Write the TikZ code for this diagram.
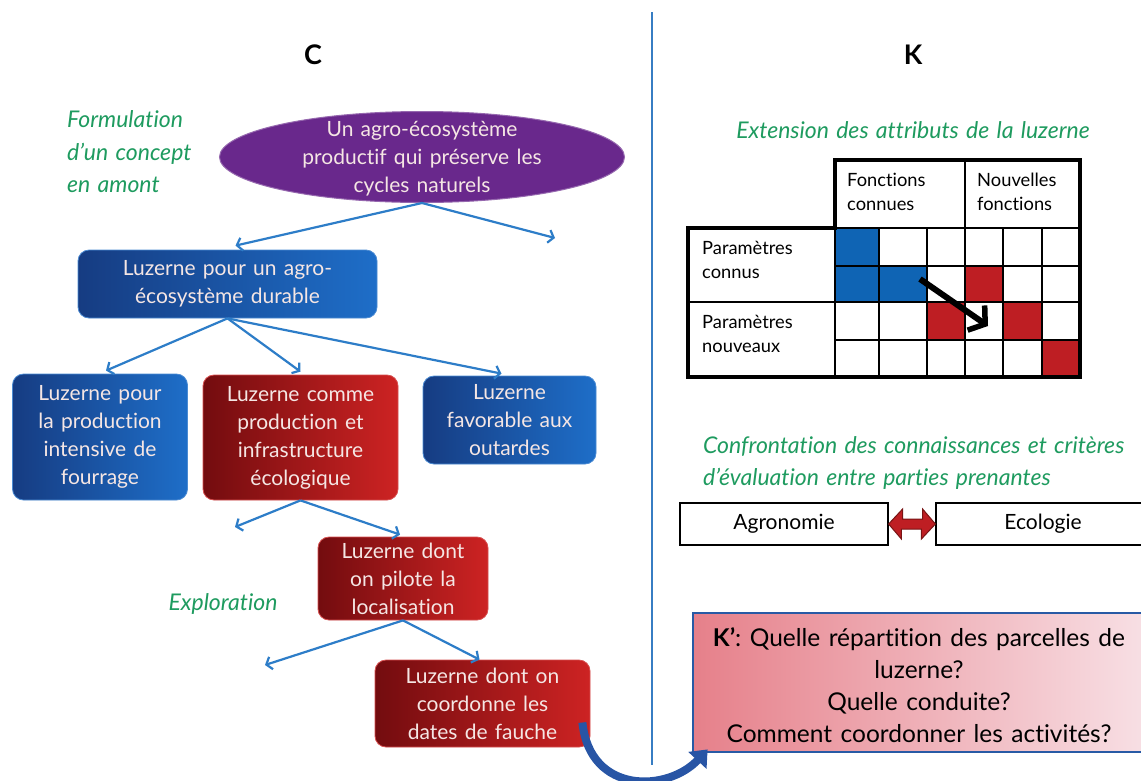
\documentclass[tikz,border=0pt]{standalone}
\usepackage{fontspec}
\setmainfont{Lato}[WordSpace=1.35,Ligatures=NoCommon]
\usetikzlibrary{arrows.meta,shapes.geometric,calc}
\definecolor{flowblue}{RGB}{45,125,200}
\definecolor{linkblue}{RGB}{55,125,195}
\definecolor{purp}{RGB}{105,40,140}
\definecolor{bdark}{RGB}{22,60,130}
\definecolor{blight}{RGB}{30,110,200}
\definecolor{rdark}{RGB}{115,12,15}
\definecolor{rlight}{RGB}{205,35,35}
\definecolor{lgreen}{RGB}{30,155,95}
\definecolor{cellblue}{RGB}{15,100,180}
\definecolor{cellred}{RGB}{190,30,35}
\definecolor{arrdark}{RGB}{120,20,20}
\definecolor{kpink}{RGB}{230,128,138}
\definecolor{kpale}{RGB}{248,225,230}
\definecolor{kborder}{RGB}{40,90,165}
\definecolor{curveblue}{RGB}{40,85,165}
\definecolor{boxtxt}{RGB}{245,230,228}
\begin{document}
\begin{tikzpicture}[x=1pt,y=-1pt,
  boxfont/.style={font=\fontsize{21}{28}\selectfont},
  bluebox/.style={rounded corners=11pt, left color=bdark, right color=blight, draw=blight!80!white, line width=0.8pt, text=boxtxt, align=center, inner sep=0pt, boxfont},
  redbox/.style={rounded corners=11pt, left color=rdark, right color=rlight, draw=rlight!80!white, line width=0.8pt, text=boxtxt, align=center, inner sep=0pt, boxfont},
  flow/.style={draw=flowblue, line width=2.2pt, -{Straight Barb[length=5pt,width=13pt]}},
  greenlabel/.style={text=lgreen, font=\fontsize{23}{32.5}\selectfont\itshape, align=left, inner sep=0pt},
  tabtext/.style={font=\fontsize{18.3}{24.5}\selectfont, align=left, inner sep=0pt},
  headlabel/.style={font=\fontsize{27}{30}\selectfont\bfseries, inner sep=0pt},
  plainbox/.style={draw=black, line width=1.2pt, minimum height=42pt, font=\fontsize{21}{24}\selectfont, inner sep=0pt},
]
\clip (0,0) rectangle (1141,780);
\fill[white] (0,0) rectangle (1141,780);

% separator
\draw[draw=linkblue, line width=2.6pt] (652,12) -- (652,765);

% headings
\node[headlabel] (hC) at (313,55) {C};
\node[headlabel] (hK) at (913,55) {K};

% left labels
\node[greenlabel, anchor=west] (form) at (67,152) {Formulation\\d’un concept\\en amont};
\node[greenlabel] (expl) at (223,604) {Exploration};

% concept ellipse
\node[ellipse, fill=purp, draw=purp!70!white, line width=1pt, minimum width=405pt, minimum height=91pt, inner sep=0pt] (E) at (422,157) {};
\node[text=boxtxt, align=center, font=\fontsize{21}{28}\selectfont, inner sep=0pt] (Et) at (422,159) {Un agro-écosystème\\productif qui préserve les\\cycles naturels};

% boxes
\node[bluebox, minimum width=299pt, minimum height=68pt] (A) at (227.5,284) {Luzerne pour un agro-\\écosystème durable};
\node[bluebox, minimum width=175pt, minimum height=126pt] (B1) at (100,437) {Luzerne pour\\la production\\intensive de\\fourrage};
\node[redbox, minimum width=195pt, minimum height=125pt] (B2) at (300.5,437.5) {Luzerne comme\\production et\\infrastructure\\écologique};
\node[bluebox, minimum width=173pt, minimum height=88pt] (B3) at (509.5,420) {Luzerne\\favorable aux\\outardes};
\node[redbox, minimum width=170pt, minimum height=83pt] (C1) at (403,578.5) {Luzerne dont\\on pilote la\\localisation};
\node[redbox, minimum width=215pt, minimum height=87pt] (D1) at (482.5,703.5) {Luzerne dont on\\coordonne les\\dates de fauche};

% free ends
\coordinate (eR) at (555,238);
\coordinate (b2L) at (235,527);
\coordinate (c1L) at (265,665);

% connectors
\draw[flow] (E.south) -- ([xshift=8pt,yshift=4pt]A.north);
\draw[flow] (E.south) -- (eR);
\draw[flow] (A.south) -- ([xshift=6pt,yshift=3pt]B1.north);
\draw[flow] (A.south) -- ([yshift=3pt]B2.north);
\draw[flow] (A.south) -- ([xshift=-8pt,yshift=2pt]B3.north);
\draw[flow] (B2.south) -- (b2L);
\draw[flow] (B2.south) -- ([xshift=-3pt,yshift=2pt]C1.north);
\draw[flow] (C1.south) -- (c1L);
\draw[flow] (C1.south) -- ([xshift=-3pt]D1.north);

% right side title
\node[greenlabel] (ext) at (913,130) {Extension des attributs de la luzerne};

% table cells
\fill[cellblue] (835,228) rectangle (879,266);
\fill[cellblue] (835,266) rectangle (927,302);
\fill[cellred] (965,266) rectangle (1003,302);
\fill[cellred] (927,302) rectangle (965,340);
\fill[cellred] (1003,302) rectangle (1042,340);
\fill[cellred] (1042,340) rectangle (1080,377);
% thin grid
\draw[line width=1.3pt] (965,160) -- (965,228);
\draw[line width=1.3pt] (835,228) -- (1080,228);
\draw[line width=1.3pt] (835,266) -- (1080,266);
\draw[line width=1.3pt] (688,302) -- (1080,302);
\draw[line width=1.3pt] (835,340) -- (1080,340);
\foreach \cx in {835,879,927,965,1003,1042} \draw[line width=1.3pt] (\cx,228) -- (\cx,377);
% thick outline
\draw[line width=3.2pt, line join=miter] (835,160) -- (1080,160) -- (1080,377) -- (688,377) -- (688,228) -- (835,228) -- cycle;
% table text
\node[tabtext, anchor=west] (fc) at (847,192) {Fonctions\\connues};
\node[tabtext, anchor=west] (nf) at (977,192) {Nouvelles\\fonctions};
\node[tabtext, anchor=west] (pc) at (702,260) {Paramètres\\connus};
\node[tabtext, anchor=west] (pn) at (702,334) {Paramètres\\nouveaux};
% black arrow
\coordinate (ta) at (920,279);
\coordinate (tb) at (988,326);
\draw[line width=6pt, -{Straight Barb[length=11pt,width=30pt,line width=5.5pt]}] (ta) -- (tb);

% confrontation
\node[greenlabel, anchor=west] (conf) at (703,463) {Confrontation des connaissances et critères\\d’évaluation entre parties prenantes};
\node[plainbox, minimum width=208pt] (Ag) at (784,524) {Agronomie};
\node[plainbox, minimum width=214pt] (Ec) at (1043,524) {Ecologie};
\fill[cellred, draw=arrdark, line width=1pt, line join=miter]
  (Ag.east) -- ++(14,-15) -- ++(0,10) -- ++(20,0) -- ++(0,-10) -- (Ec.west)
  -- ++(-14,15) -- ++(0,-10) -- ++(-20,0) -- ++(0,10) -- cycle;

% K' box
\node[draw=kborder, line width=2.8pt, left color=kpink, right color=kpale, minimum width=460pt, minimum height=139pt, inner sep=0pt] (Kp) at (923,682.5) {};
\node[align=center, font=\fontsize{24.5}{32}\selectfont, inner sep=0pt] (Kt) at (919,685) {\textbf{K’}: Quelle répartition des parcelles de\\luzerne?\\Quelle conduite?\\Comment coordonner les activités?};

% curved arrow
\draw[draw=curveblue, line width=8pt, -{Triangle[length=15pt,width=24pt]}] ([xshift=-8pt,yshift=-19pt]D1.east) .. controls (590,795) and (668,792) .. ([xshift=16pt,yshift=4pt]Kp.south west);
\end{tikzpicture}
\end{document}
